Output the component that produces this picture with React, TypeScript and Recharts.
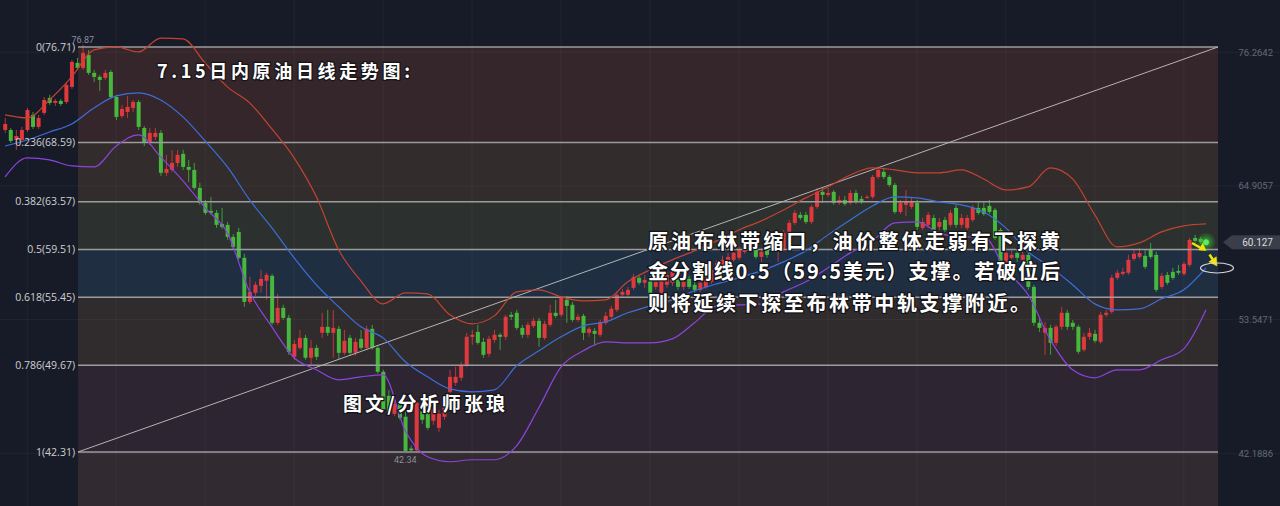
import React from 'react';
import {
  ComposedChart, XAxis, YAxis, Bar, Line, ReferenceArea, ReferenceLine, ReferenceDot,
} from 'recharts';

// daily candles, index 0..216 (price in USD)
const OPEN = [
  69.66, 69.66, 68.81, 68.81, 69.66, 70.94, 69.92, 71.11, 72.38, 71.96,
  72.13, 72.04, 73.32, 75.36, 74.93, 76.03, 74.51, 74.17, 74.08, 74.59,
  72.46, 70.85, 71.19, 71.53, 72.04, 69.83, 68.56, 69.07, 69.41, 66.02,
  66.27, 66.86, 67.63, 66.52, 66.27, 64.74, 63.47, 62.79, 62.62, 61.68,
  61.60, 60.58, 61.00, 58.80, 55.06, 55.83, 56.42, 56.85, 57.27, 53.28,
  54.55, 53.70, 50.39, 51.15, 52.00, 50.31, 51.15, 52.43, 52.94, 52.43,
  52.77, 50.73, 52.00, 50.73, 51.92, 51.15, 52.77, 51.15, 49.12, 47.08,
  45.55, 46.40, 45.30, 42.60, 42.45, 46.32, 45.89, 44.96, 44.36, 45.30,
  47.42, 48.18, 48.61, 49.71, 52.09, 52.51, 51.66, 50.65, 51.83, 52.26,
  52.09, 53.96, 54.13, 52.85, 52.26, 53.02, 53.45, 52.00, 53.11, 54.13,
  53.96, 55.23, 54.81, 53.53, 53.87, 52.43, 52.60, 52.26, 53.28, 53.79,
  54.38, 55.66, 55.66, 56.25, 57.10, 56.68, 57.10, 56.33, 55.83, 56.51,
  56.68, 56.93, 56.33, 57.01, 56.51, 56.08, 56.33, 56.76, 57.10, 57.95,
  58.20, 58.63, 58.80, 59.31, 59.65, 60.07, 58.88, 59.65, 59.48, 59.73,
  59.48, 60.75, 61.77, 62.45, 62.45, 61.85, 63.13, 64.40, 64.14, 64.40,
  63.47, 63.72, 63.47, 64.31, 63.81, 63.89, 63.98, 65.67, 66.10, 65.67,
  64.99, 62.70, 63.30, 63.13, 63.47, 61.34, 61.60, 62.19, 61.43, 62.02,
  61.60, 63.04, 61.60, 61.34, 62.02, 63.04, 63.04, 63.21, 62.87, 61.17,
  58.46, 58.80, 59.22, 58.63, 59.05, 56.33, 53.28, 52.43, 52.85, 51.58,
  52.94, 54.13, 53.28, 52.94, 50.99, 52.09, 52.34, 51.66, 53.96, 54.21,
  57.10, 57.44, 57.53, 58.71, 58.88, 58.97, 59.48, 59.05, 56.33, 57.35,
  57.61, 57.69, 57.44, 58.20, 60.49, 60.41, 60.24,
];
const HIGH = [
  70.68, 69.83, 69.66, 69.92, 71.53, 71.19, 70.94, 72.46, 72.64, 72.30,
  72.30, 73.74, 75.61, 75.78, 76.87, 76.46, 74.76, 74.34, 74.76, 74.76,
  72.64, 71.79, 72.55, 72.21, 72.21, 70.00, 69.83, 69.83, 69.66, 67.54,
  67.97, 67.97, 67.97, 67.12, 66.86, 65.17, 63.72, 63.98, 62.87, 63.04,
  61.85, 60.83, 61.34, 59.14, 57.18, 56.76, 57.78, 57.53, 57.44, 55.74,
  54.81, 53.96, 51.83, 52.68, 52.26, 51.83, 51.41, 54.13, 54.38, 54.38,
  53.02, 52.68, 52.26, 52.00, 52.68, 53.02, 53.11, 51.41, 49.29, 47.59,
  46.91, 46.74, 45.72, 42.85, 46.74, 46.74, 46.32, 46.32, 45.89, 46.91,
  49.29, 49.54, 49.97, 52.43, 52.68, 53.11, 52.00, 52.17, 52.68, 52.43,
  53.96, 54.21, 54.38, 53.11, 53.36, 53.70, 53.70, 53.45, 54.81, 55.23,
  55.57, 55.57, 55.06, 54.04, 54.04, 52.94, 52.85, 53.53, 54.21, 54.72,
  55.91, 56.16, 56.33, 57.44, 57.35, 57.35, 57.27, 57.10, 57.27, 57.61,
  57.95, 57.27, 57.10, 57.27, 56.76, 56.93, 57.44, 58.03, 58.63, 58.97,
  59.22, 59.48, 59.73, 60.32, 60.66, 60.32, 59.65, 59.90, 60.75, 60.58,
  61.17, 62.02, 62.87, 62.70, 62.70, 63.30, 64.74, 64.74, 64.74, 64.57,
  64.06, 64.06, 64.57, 64.57, 64.06, 64.14, 65.84, 66.44, 66.35, 65.84,
  65.17, 63.72, 64.57, 63.89, 63.72, 62.19, 62.70, 62.45, 62.19, 62.28,
  62.87, 63.30, 62.53, 62.45, 63.30, 63.55, 63.55, 63.72, 63.04, 61.34,
  59.65, 59.48, 59.48, 59.31, 59.31, 56.51, 53.70, 53.36, 53.11, 53.11,
  54.64, 54.38, 53.53, 53.11, 52.43, 52.85, 52.68, 54.21, 54.38, 57.35,
  57.78, 57.95, 59.05, 59.48, 59.65, 59.48, 60.07, 59.31, 57.53, 57.61,
  57.95, 58.20, 58.46, 60.49, 60.75, 60.58, 60.41,
];
const LOW = [
  69.41, 68.56, 67.97, 68.64, 69.49, 69.75, 69.75, 70.94, 71.79, 71.70,
  71.70, 71.87, 73.15, 74.76, 74.76, 74.34, 73.74, 72.98, 73.91, 72.30,
  70.51, 70.68, 70.68, 71.19, 69.66, 68.30, 68.39, 68.81, 65.76, 65.76,
  66.10, 66.52, 66.27, 65.25, 64.57, 63.30, 62.45, 62.45, 61.34, 61.26,
  60.32, 59.48, 58.63, 54.64, 54.89, 55.57, 55.83, 55.23, 53.11, 53.11,
  53.53, 50.56, 50.14, 50.99, 50.14, 49.63, 50.14, 52.00, 52.17, 50.31,
  50.14, 50.56, 50.48, 50.48, 50.99, 50.99, 50.99, 48.95, 45.72, 45.38,
  45.38, 45.04, 42.34, 42.36, 42.36, 44.70, 44.19, 44.62, 44.02, 45.04,
  46.99, 47.93, 48.35, 49.54, 51.41, 51.41, 50.31, 50.39, 51.58, 50.99,
  51.83, 53.53, 52.68, 52.00, 52.00, 52.85, 51.24, 51.83, 52.94, 53.70,
  53.79, 53.28, 53.36, 53.36, 51.83, 52.09, 51.41, 52.09, 53.11, 53.62,
  54.21, 55.49, 55.40, 56.08, 56.51, 56.25, 55.32, 56.08, 55.66, 56.25,
  56.42, 56.08, 56.08, 56.16, 55.83, 55.91, 56.16, 56.59, 56.93, 57.78,
  58.03, 58.46, 58.63, 59.14, 59.48, 58.71, 58.46, 58.80, 59.31, 58.46,
  59.31, 60.58, 61.60, 62.02, 61.68, 61.68, 62.96, 63.47, 63.98, 63.30,
  63.30, 63.21, 63.30, 63.38, 63.38, 63.81, 63.81, 65.50, 65.50, 64.82,
  62.53, 62.53, 62.36, 62.96, 61.17, 61.17, 61.34, 60.75, 61.17, 61.00,
  61.43, 61.34, 61.34, 61.17, 61.85, 62.45, 62.36, 62.53, 60.32, 58.12,
  58.29, 58.63, 58.46, 58.46, 56.08, 53.02, 52.51, 50.56, 50.56, 51.32,
  52.68, 52.68, 52.68, 50.65, 50.82, 51.83, 51.58, 51.49, 53.79, 54.04,
  56.93, 57.27, 57.35, 58.54, 58.71, 57.86, 58.71, 55.91, 56.16, 56.51,
  56.93, 57.35, 57.27, 58.03, 60.07, 59.99, 59.90,
];
const CLOSE = [
  70.17, 68.73, 69.15, 69.66, 71.36, 69.92, 70.68, 72.21, 71.96, 72.13,
  71.87, 73.49, 75.44, 74.93, 76.20, 74.51, 74.17, 73.91, 74.51, 72.46,
  70.77, 71.45, 71.62, 72.04, 69.92, 68.56, 69.41, 69.41, 66.02, 66.35,
  66.86, 67.54, 66.52, 66.27, 64.74, 63.47, 62.62, 62.62, 61.60, 61.43,
  60.58, 59.73, 58.80, 55.06, 55.91, 56.51, 57.01, 57.35, 53.28, 54.55,
  53.70, 50.82, 51.49, 52.00, 50.31, 51.15, 50.39, 52.94, 52.43, 52.85,
  50.73, 51.75, 50.73, 51.66, 51.15, 52.77, 51.15, 49.12, 45.89, 45.72,
  46.40, 45.21, 42.40, 42.45, 46.49, 45.04, 44.36, 45.98, 45.55, 46.49,
  48.69, 48.69, 49.71, 52.09, 52.26, 51.58, 50.56, 51.92, 52.26, 52.09,
  53.79, 53.79, 52.85, 52.26, 53.11, 53.45, 52.00, 53.19, 54.13, 53.87,
  55.40, 54.72, 53.53, 53.79, 52.43, 52.77, 52.34, 53.36, 53.87, 54.47,
  55.66, 55.91, 56.08, 57.18, 56.68, 56.93, 55.49, 56.76, 57.10, 57.35,
  57.61, 56.33, 56.76, 56.33, 56.08, 56.68, 57.18, 57.78, 58.37, 58.63,
  58.88, 59.22, 59.48, 60.07, 60.32, 58.88, 59.31, 59.05, 60.49, 60.32,
  60.92, 61.77, 62.62, 62.19, 61.85, 63.13, 64.40, 64.14, 64.31, 63.47,
  63.72, 63.38, 64.31, 63.55, 63.55, 63.98, 65.67, 66.27, 65.67, 64.99,
  62.70, 63.47, 63.55, 63.55, 61.43, 61.85, 62.45, 61.00, 61.85, 61.17,
  62.62, 61.60, 62.19, 62.19, 63.04, 62.62, 62.53, 62.70, 60.49, 58.37,
  59.22, 59.05, 58.80, 59.05, 56.33, 53.28, 52.85, 52.85, 51.58, 52.94,
  54.13, 52.94, 52.94, 50.82, 52.09, 52.43, 51.75, 53.96, 54.13, 57.10,
  57.53, 57.61, 58.63, 59.14, 59.22, 58.03, 58.88, 56.08, 57.27, 56.68,
  57.10, 57.53, 58.29, 60.32, 60.24, 60.15, 60.13,
];

// bollinger bands, one reading every 4 candles
const BAND_STEP = 4;
const UPPER = [
  70.94, 70.68, 72.21, 74.17, 76.46, 76.71, 76.29, 77.47, 77.39, 75.35,
  73.32, 71.96, 69.75, 67.29, 63.98, 59.48, 56.85, 54.89, 55.83, 55.74,
  53.96, 53.19, 53.87, 55.91, 56.08, 55.49, 55.15, 55.23, 56.76, 57.78,
  58.63, 59.39, 60.24, 61.17, 61.94, 62.87, 63.89, 64.82, 65.84, 66.44,
  66.27, 66.02, 66.02, 66.27, 65.50, 64.57, 64.82, 66.44, 65.50, 62.45,
  59.73, 60.07, 61.00, 61.51, 61.68,
];
const MIDDLE = [
  68.30, 68.81, 69.49, 70.17, 71.53, 72.55, 72.81, 72.21, 70.77, 68.73,
  66.52, 63.72, 61.34, 58.80, 56.51, 54.64, 52.94, 52.00, 49.97, 48.69,
  47.67, 47.42, 47.59, 49.63, 50.90, 52.09, 53.02, 53.36, 54.13, 54.72,
  55.23, 56.00, 56.59, 57.10, 57.69, 58.46, 59.39, 60.75, 62.02, 63.21,
  63.98, 63.89, 63.55, 63.30, 62.70, 61.34, 59.31, 58.03, 56.51, 54.89,
  54.38, 54.47, 55.32, 56.08, 57.95,
];
const LOWER = [
  65.67, 67.29, 67.12, 66.61, 66.52, 68.30, 69.24, 67.37, 65.33, 63.04,
  60.92, 55.91, 52.94, 50.31, 49.29, 48.44, 48.69, 48.86, 44.11, 41.90,
  41.48, 41.65, 41.65, 42.83, 46.06, 49.54, 50.90, 51.66, 51.58, 51.58,
  51.92, 53.28, 54.72, 54.81, 54.89, 55.91, 56.76, 57.95, 59.22, 60.24,
  61.77, 61.85, 60.92, 60.58, 60.58, 57.78, 55.66, 51.83, 49.29, 48.61,
  49.29, 49.29, 50.14, 51.07, 54.38,
];

const FIB_RATIOS = ['0', '0.236', '0.382', '0.5', '0.618', '0.786', '1'];
const FIB_PRICES = [76.71, 68.59, 63.57, 59.51, 55.45, 49.67, 42.31];
const RIGHT_TICKS = [76.2642, 64.9057, 53.5471, 42.1886];
const LAST_PRICE = 60.127;
const HIGH_MARK = { i: 14, label: '76.87' };
const LOW_MARK = { i: 72, label: '42.34' };

const W = 1280;
const H = 506;
const X_DOMAIN = [-0.9, 229.3];
const Y_DOMAIN = [37.72, 80.7];
const FIB_X0 = 13.13;
const FIB_X1 = 218.15;

const BG = '#171b28';
const RED = '#e0393d';
const GREEN = '#46b83c';
const BAND_FILLS = ['#35262b', '#332c2d', '#2c302e', '#202e42', '#302c2e', '#2e2533'];
const BELOW_FILL = '#312a30';

const rows = OPEN.map((o, i) => {
  const k = i / BAND_STEP;
  const onBand = i % BAND_STEP === 0;
  return {
    i,
    open: o,
    high: HIGH[i],
    low: LOW[i],
    close: CLOSE[i],
    range: [LOW[i], HIGH[i]],
    up: onBand ? UPPER[k] : null,
    mid: onBand ? MIDDLE[k] : null,
    dn: onBand ? LOWER[k] : null,
  };
});

const Candle = (props: any) => {
  const { x, y, width, height, payload } = props;
  if (!payload) return null;
  const { open, close, high, low } = payload;
  const color = close >= open ? RED : GREEN;
  const top = Math.min(y, y + height);
  const h = Math.abs(height);
  const span = high - low || 1;
  const yOf = (v: number) => top + ((high - v) / span) * h;
  const cx = x + width / 2;
  const bodyTop = yOf(Math.max(open, close));
  const bodyH = Math.max(1, Math.abs(yOf(open) - yOf(close)));
  return (
    <g>
      <line x1={cx} x2={cx} y1={top} y2={top + h} stroke={color} strokeOpacity={0.8} strokeWidth={1} />
      <rect x={x} y={bodyTop} width={width} height={bodyH} fill={color} />
    </g>
  );
};

const GlowDot = (props: any) => {
  const { cx, cy } = props;
  return (
    <g>
      <defs>
        <radialGradient id="glow">
          <stop offset="0%" stopColor="#5dff5d" stopOpacity={0.9} />
          <stop offset="45%" stopColor="#33cc33" stopOpacity={0.45} />
          <stop offset="100%" stopColor="#33cc33" stopOpacity={0} />
        </radialGradient>
      </defs>
      <circle cx={cx} cy={cy} r={10} fill="url(#glow)" />
      <circle cx={cx} cy={cy} r={2.8} fill="#62e862" />
    </g>
  );
};

const PriceTag = (props: any) => {
  const { viewBox } = props;
  if (!viewBox) return null;
  const right = viewBox.x + viewBox.width;
  const y = viewBox.y;
  return (
    <g>
      <polygon
        points={`${right - 48},${y - 7} ${right},${y - 7} ${right},${y + 7} ${right - 48},${y + 7} ${right - 57},${y}`}
        fill="#3a3e4a"
      />
      <text x={right - 7} y={y} textAnchor="end" dominantBaseline="central" fontSize={10} fill="#dcdcdc" fontFamily="Roboto, sans-serif">
        {LAST_PRICE.toFixed(3)}
      </text>
    </g>
  );
};

const cjk = "'Noto Sans CJK SC', sans-serif";
const textStyle = { paintOrder: 'stroke' } as React.CSSProperties;

export default function App() {
  const vGrid = [];
  for (let v = 4; v <= 216; v += 16) vGrid.push(v);

  return (
    <div style={{ position: 'fixed', left: 0, top: 0, width: W, height: H, background: BG }}>
      <ComposedChart width={W} height={H} data={rows} margin={{ top: 0, right: 0, bottom: 0, left: 0 }}>
        <XAxis dataKey="i" type="number" domain={X_DOMAIN} allowDataOverflow hide />
        <YAxis type="number" domain={Y_DOMAIN} allowDataOverflow hide />

        {/* fibonacci bands */}
        {BAND_FILLS.map((fill, k) => (
          <ReferenceArea key={`fa-${k}`} x1={FIB_X0} x2={FIB_X1} y1={FIB_PRICES[k + 1]} y2={FIB_PRICES[k]}
            fill={fill} fillOpacity={1} stroke="none" />
        ))}
        <ReferenceArea x1={FIB_X0} x2={FIB_X1} y1={Y_DOMAIN[0]} y2={FIB_PRICES[6]} fill={BELOW_FILL} fillOpacity={1} stroke="none" />

        {/* faint grid */}
        {vGrid.map((v) => (
          <ReferenceLine key={`vg-${v}`} x={v} stroke="rgba(255,255,255,0.045)" strokeWidth={1} />
        ))}
        {RIGHT_TICKS.map((t) => (
          <ReferenceLine key={`hg-${t}`} y={t} stroke="rgba(255,255,255,0.045)" strokeWidth={1}
            label={{ value: t.toFixed(4), position: 'insideRight', offset: 7, fill: '#626978', fontSize: 9.5, fontFamily: 'Roboto, sans-serif' }} />
        ))}

        {/* fibonacci levels */}
        {FIB_PRICES.map((p, k) => (
          <ReferenceLine key={`fl-${k}`} segment={[{ x: FIB_X0, y: p }, { x: FIB_X1, y: p }]}
            stroke="#9c9c9c" strokeWidth={1.5}
            label={{ value: `${FIB_RATIOS[k]}(${p.toFixed(2)})`, position: 'left', offset: 3, fill: '#cfcfcf', fontSize: 10.5, fontFamily: "'Open Sans', sans-serif" }} />
        ))}
        <ReferenceLine segment={[{ x: FIB_X0, y: FIB_PRICES[6] }, { x: FIB_X1, y: FIB_PRICES[0] }]}
          stroke="#b4b4b4" strokeWidth={1} />

        {/* bollinger */}
        <Line dataKey="up" type="monotone" stroke="#c4432e" strokeWidth={1.2} dot={false} activeDot={false} connectNulls isAnimationActive={false} />
        <Line dataKey="mid" type="monotone" stroke="#3b6fda" strokeWidth={1.2} dot={false} activeDot={false} connectNulls isAnimationActive={false} />
        <Line dataKey="dn" type="monotone" stroke="#8d44dc" strokeWidth={1.2} dot={false} activeDot={false} connectNulls isAnimationActive={false} />

        <Bar dataKey="range" barSize={4} shape={Candle} isAnimationActive={false} />

        <ReferenceDot x={HIGH_MARK.i} y={HIGH[HIGH_MARK.i]} r={1} fill="none" stroke="none"
          label={{ value: HIGH_MARK.label, position: 'top', offset: 1, fill: '#8a8f99', fontSize: 9, fontFamily: 'Roboto, sans-serif' }} />
        <ReferenceDot x={LOW_MARK.i} y={LOW[LOW_MARK.i]} r={1} fill="none" stroke="none"
          label={{ value: LOW_MARK.label, position: 'bottom', offset: 4, fill: '#8a8f99', fontSize: 9, fontFamily: 'Roboto, sans-serif' }} />

        <ReferenceLine y={LAST_PRICE} stroke="none" label={<PriceTag />} />
        <ReferenceDot x={rows.length - 1} y={LAST_PRICE} shape={GlowDot} />
      </ComposedChart>

      <svg width={W} height={H} style={{ position: 'absolute', left: 0, top: 0, pointerEvents: 'none' }}>
        <g fontFamily={cjk} fontWeight={700} fill="#ffffff" stroke="#15151a" strokeWidth={2.5} style={textStyle}>
          <text x={157} y={70} fontSize={18} textLength={253} lengthAdjust="spacing" dominantBaseline="central">
            7.15日内原油日线走势图:
          </text>
          <text x={648} y={240} fontSize={20} textLength={412} lengthAdjust="spacing" dominantBaseline="central">
            原油布林带缩口，油价整体走弱有下探黄
          </text>
          <text x={648} y={270} fontSize={20} textLength={412} lengthAdjust="spacing" dominantBaseline="central">
            金分割线0.5（59.5美元）支撑。若破位后
          </text>
          <text x={648} y={302} fontSize={20} textLength={382} lengthAdjust="spacing" dominantBaseline="central">
            则将延续下探至布林带中轨支撑附近。
          </text>
          <text x={343} y={402} fontSize={19} textLength={162} lengthAdjust="spacing" dominantBaseline="central">
            图文/分析师张琅
          </text>
        </g>
        {/* hand-drawn markers */}
        <g fill="#f2e40c" stroke="#f2e40c">
          <line x1={1192} y1={243} x2={1200} y2={247.5} strokeWidth={2.5} />
          <polygon points="1206,250.5 1198.6,250 1202.8,243.2" strokeWidth={0.5} />
          <line x1={1209.5} y1={254.5} x2={1212.8} y2={259.5} strokeWidth={2.5} />
          <polygon points="1217,266 1208.8,261.8 1216.3,256.8" strokeWidth={0.5} />
        </g>
        <ellipse cx={1217} cy={268} rx={16.5} ry={5} fill="none" stroke="#d8d8d8" strokeWidth={1.2} />
      </svg>
    </div>
  );
}
